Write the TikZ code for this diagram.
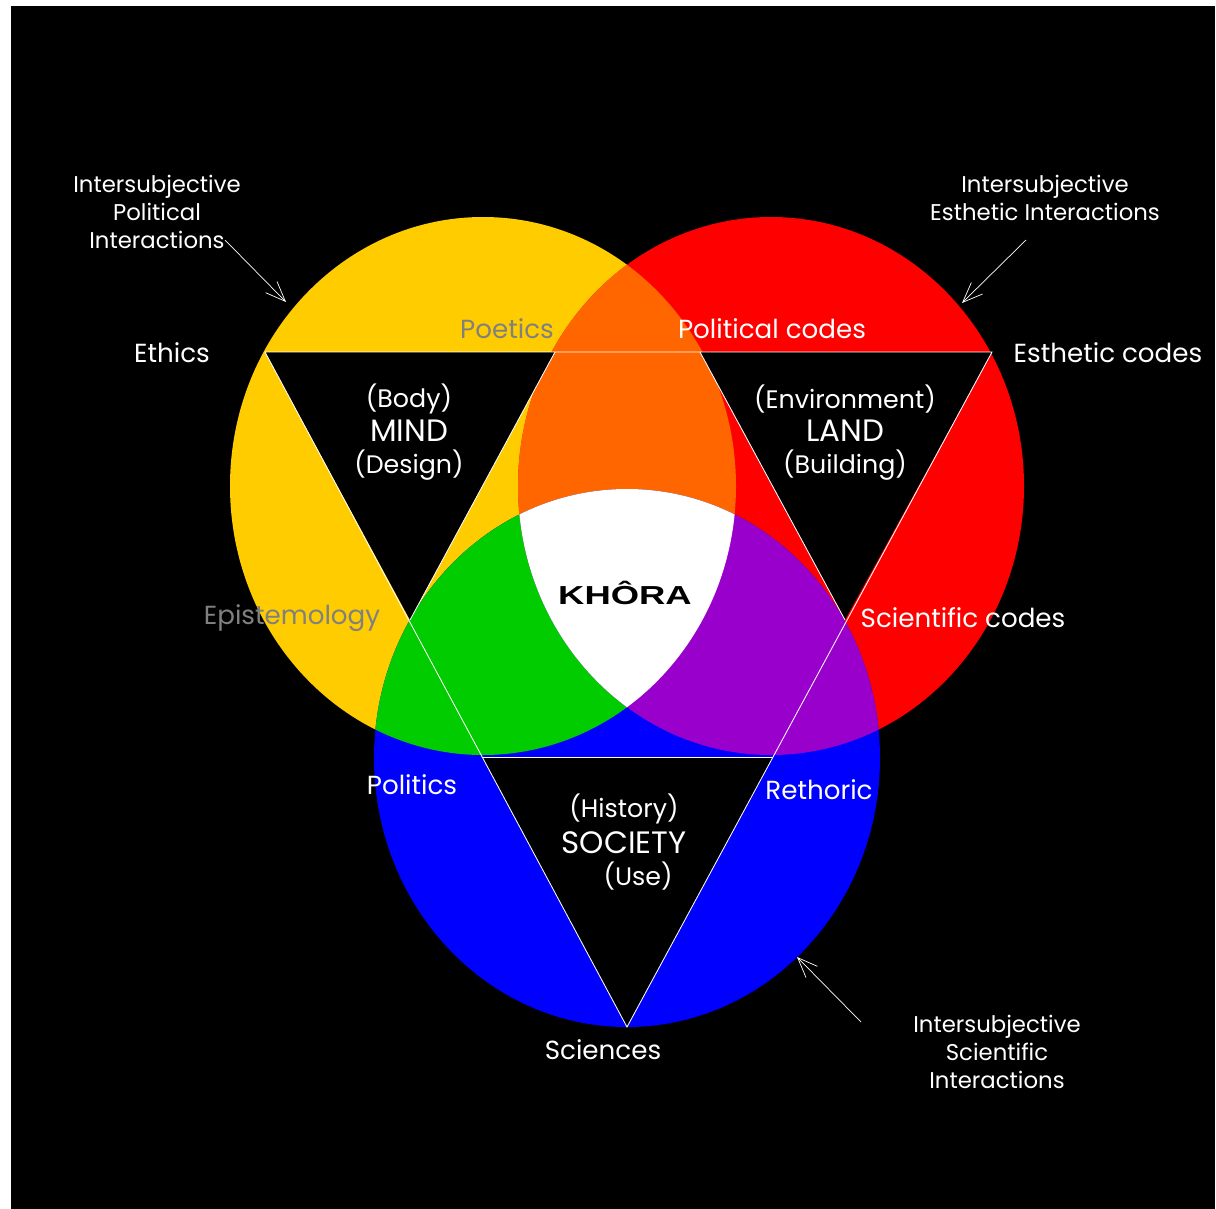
\documentclass[tikz,border=0pt]{standalone}
\usepackage{fontspec}
\setmainfont{Poppins}
\newfontfamily\khorafont[FakeStretch=1.4]{Liberation Sans}
\usetikzlibrary{arrows.meta, positioning, calc}
\definecolor{yel}{HTML}{FFCC00}
\definecolor{org}{HTML}{FF6600}
\definecolor{grn}{HTML}{00CC00}
\definecolor{blu}{HTML}{0000FF}
\definecolor{prp}{HTML}{9900CC}
\definecolor{dimgray}{HTML}{808080}
\def\yelcircle{(483,486) ellipse [x radius=253, y radius=269]}
\def\redcircle{(771,486) ellipse [x radius=253, y radius=269]}
\def\blucircle{(627,758) ellipse [x radius=253, y radius=269]}
\tikzset{
    wline/.style={draw=white, line width=0.6pt},
    note/.style={text=white, align=center, inner sep=0pt, font=\fontsize{16.2}{20}\selectfont},
    notearrow/.style={draw=white, line width=0.5pt, -{Straight Barb[length=5mm, width=4mm]}},
    code/.style={text=white, inner sep=0pt, font=\fontsize{18.6}{18.6}\selectfont},
    graycode/.style={code, text=dimgray},
    sub/.style={text=white, inner sep=0pt, font=\fontsize{18}{18}\selectfont},
    big/.style={text=white, inner sep=0pt, font=\fontsize{22}{22}\selectfont},
}

\begin{document}
\begin{tikzpicture}[x=0.025cm, y=-0.025cm]
    \useasboundingbox (0,0) rectangle (1216,1209);
    \fill[white] (0,0) rectangle (1216,1209);
    \fill[black] (11,6) rectangle (1215,1209);

    % circles
    \fill[yel] \yelcircle;
    \fill[red] \redcircle;
    \fill[blu] \blucircle;
    \begin{scope}
        \clip \yelcircle;
        \fill[org] \redcircle;
        \fill[grn] \blucircle;
    \end{scope}
    \begin{scope}
        \clip \redcircle;
        \fill[prp] \blucircle;
    \end{scope}
    \begin{scope}
        \clip \yelcircle;
        \clip \redcircle;
        \fill[white] \blucircle;
    \end{scope}

    % triangles
    \coordinate (ethics) at (265,352);
    \coordinate (esthetic) at (992,352);
    \coordinate (sciences) at (627,1027);
    \coordinate (poetics) at (555,352);
    \coordinate (political) at (700,352);
    \coordinate (episteme) at (410,620);
    \coordinate (scientific) at (845,620);
    \coordinate (politics) at (482,757);
    \coordinate (rethoric) at (773,757);

    \fill[black] (ethics) -- (poetics) -- (episteme) -- cycle;
    \fill[black] (political) -- (esthetic) -- (scientific) -- cycle;
    \fill[black] (politics) -- (rethoric) -- (sciences) -- cycle;

    \draw[wline] (ethics) -- (esthetic) -- (sciences) -- cycle;
    \draw[wline] (poetics) -- (episteme);
    \draw[wline] (political) -- (scientific);
    \draw[wline] (politics) -- (rethoric);

    % notes
    \node[note] (note-pol) at (157,212) {Intersubjective\\Political\\Interactions};
    \node[note] (note-est) at (1045,198) {Intersubjective\\Esthetic Interactions};
    \node[note] (note-sci) at (997,1052) {Intersubjective\\Scientific\\Interactions};

    \coordinate (pol-tail) at (225,240);
    \coordinate (pol-tip) at (286,302);
    \coordinate (est-tail) at (1026,240);
    \coordinate (est-tip) at (962,303);
    \coordinate (sci-tail) at (861,1022);
    \coordinate (sci-tip) at (797,957);
    \draw[notearrow] (pol-tail) -- (pol-tip);
    \draw[notearrow] (est-tail) -- (est-tip);
    \draw[notearrow] (sci-tail) -- (sci-tip);

    % codes
    \node[code] (ethics-lbl) at (172,353) {Ethics};
    \node[code] (esthetic-lbl) at (1108,353) {Esthetic codes};
    \node[graycode] (poetics-lbl) at (507,329) {Poetics};
    \node[code] (political-lbl) at (772,329) {Political codes};
    \node[graycode] (episteme-lbl) at (292,618) {Epistemology};
    \node[code] (scientific-lbl) at (963,618) {Scientific codes};
    \node[code] (politics-lbl) at (412,785) {Politics};
    \node[code] (rethoric-lbl) at (819,790) {Rethoric};
    \node[code] (sciences-lbl) at (603,1050) {Sciences};

    % centres
    \node[sub] (body) at (409,399) {(Body)};
    \node[big] (mind) at (409,431) {MIND};
    \node[sub] (design) at (409,465) {(Design)};
    \node[sub] (environment) at (845,399) {(Environment)};
    \node[big] (land) at (845,431) {LAND};
    \node[sub] (building) at (845,465) {(Building)};
    \node[sub] (history) at (624,809) {(History)};
    \node[big] (society) at (624,843) {SOCIETY};
    \node[sub] (use) at (638,876) {(Use)};

    \node[inner sep=0pt, font=\khorafont\bfseries\fontsize{18.5}{18.5}\selectfont] (khora) at (625,593) {KHÔRA};
\end{tikzpicture}
\end{document}
